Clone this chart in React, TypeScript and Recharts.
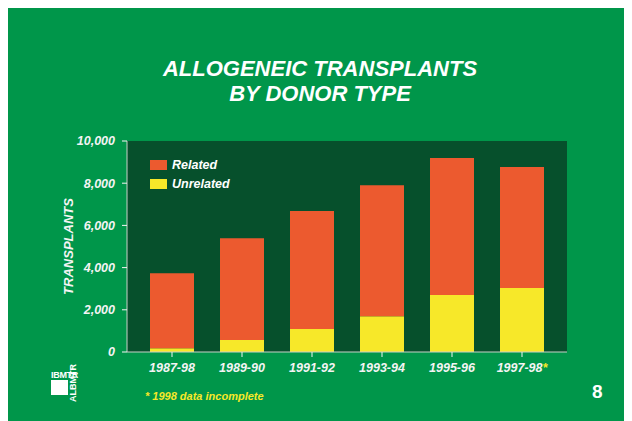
import React from "react";
import { BarChart, Bar, XAxis, YAxis, CartesianGrid, Legend } from "recharts";

const categories = ["1987-98", "1989-90", "1991-92", "1993-94", "1995-96", "1997-98*"];
const unrelated = [180, 570, 1090, 1700, 2700, 3030];
const related = [3550, 4820, 5590, 6200, 6490, 5740];
const yTicks = [0, 2000, 4000, 6000, 8000, 10000];

const data = categories.map((c, i) => ({
  period: c,
  Unrelated: unrelated[i],
  Related: related[i],
}));

const FONT = '"Liberation Sans", Arial, Helvetica, sans-serif';
const BG = "#00964A";
const PLOT = "#06502C";
const RED = "#EC5A2F";
const YEL = "#F7E829";
const BORDER = "#C8D0C8";

const legendOrder = ["Related", "Unrelated"];

const LegendContent = (props: any) => {
  const items = [...(props.payload || [])].sort(
    (a: any, b: any) => legendOrder.indexOf(a.value) - legendOrder.indexOf(b.value)
  );
  return (
    <div style={{ fontFamily: FONT }}>
      {items.map((it: any) => (
        <div key={it.value} style={{ display: "flex", alignItems: "center", height: 19.5 }}>
          <span style={{ display: "inline-block", width: 17, height: 10, background: it.color, marginRight: 5 }} />
          <span style={{ color: "#fff", fontSize: 12.5, fontWeight: "bold", fontStyle: "italic" }}>{it.value}</span>
        </div>
      ))}
    </div>
  );
};

const XTick = (props: any) => {
  const { x, y, payload } = props;
  const v: string = String(payload.value);
  const star = v.endsWith("*");
  const base = star ? v.slice(0, -1) : v;
  return (
    <text x={x} y={y} dy="0.71em" textAnchor="middle" fill="#F4F4F4" fontSize={12.5} fontWeight="bold" fontStyle="italic" fontFamily={FONT}>
      {base}
      {star && <tspan fill={YEL}>*</tspan>}
    </text>
  );
};

const YLabel = (props: any) => {
  const vb = props.viewBox || {};
  const cx = vb.x + 1;
  const cy = vb.y + vb.height / 2;
  return (
    <text x={cx} y={cy} transform={`rotate(-90 ${cx} ${cy})`} textAnchor="middle" dominantBaseline="central" fill="#F4F4F4" fontSize={13} fontWeight="bold" fontStyle="italic" fontFamily={FONT}>
      TRANSPLANTS
    </text>
  );
};

export default function App() {
  return (
    <div style={{ position: "relative", width: 624, height: 413, background: BG, fontFamily: FONT, overflow: "hidden" }}>
      <div style={{ position: "absolute", left: 0, top: 48, width: 624, textAlign: "center", color: "#fff", fontSize: 22, lineHeight: "25px", fontWeight: "bold", fontStyle: "italic" }}>
        <div>ALLOGENEIC TRANSPLANTS</div>
        <div>BY DONOR TYPE</div>
      </div>
      <BarChart width={624} height={413} data={data} margin={{ top: 133, right: 65, bottom: 39, left: 59 }}>
        <CartesianGrid horizontal={false} vertical={false} fill={PLOT} stroke="none" />
        <XAxis
          dataKey="period"
          padding={{ left: 10, right: 10 }}
          height={30}
          tick={<XTick />}
          tickSize={5}
          tickMargin={6}
          tickLine={{ stroke: "#F4F4F4" }}
          axisLine={{ stroke: BORDER }}
          interval={0}
        />
        <XAxis xAxisId="top" orientation="top" height={0} tick={false} tickLine={false} axisLine={{ stroke: BORDER }} />
        <YAxis
          width={60}
          domain={[0, 10000]}
          ticks={yTicks}
          tickFormatter={(v: number) => v.toLocaleString("en-US")}
          tick={{ fill: "#F4F4F4", fontSize: 12.5, fontWeight: "bold", fontStyle: "italic", fontFamily: FONT }}
          tickSize={5}
          tickMargin={7}
          tickLine={{ stroke: "#F4F4F4" }}
          axisLine={{ stroke: BORDER }}
          label={<YLabel />}
        />
        <YAxis yAxisId="right" orientation="right" width={0} tick={false} tickLine={false} axisLine={{ stroke: BORDER }} />
        <Legend
          layout="horizontal"
          verticalAlign="middle"
          align="center"
          content={<LegendContent />}
          wrapperStyle={{ left: 142, top: 147, width: 120 }}
        />
        <Bar dataKey="Unrelated" stackId="a" fill={YEL} barSize={44} isAnimationActive={false} />
        <Bar dataKey="Related" stackId="a" fill={RED} barSize={44} isAnimationActive={false} />
      </BarChart>
      <div style={{ position: "absolute", left: 137, top: 383, color: YEL, fontSize: 11, lineHeight: "11px", fontWeight: "bold", fontStyle: "italic", whiteSpace: "nowrap" }}>
        * 1998 data incomplete
      </div>
      <div style={{ position: "absolute", left: 584, top: 374, color: "#fff", fontSize: 19, lineHeight: "19px", fontWeight: "bold" }}>8</div>
      <div style={{ position: "absolute", left: 43, top: 363, color: "#fff", fontSize: 9, lineHeight: "9px", fontWeight: "bold", letterSpacing: -0.3 }}>IBMTR</div>
      <div style={{ position: "absolute", left: 43, top: 372, width: 17, height: 15, background: "#fff" }} />
      <div style={{ position: "absolute", left: 61, top: 394, transform: "rotate(-90deg)", transformOrigin: "0 0", color: "#fff", fontSize: 9, lineHeight: "9px", fontWeight: "bold", whiteSpace: "nowrap" }}>
        ALBMTR
      </div>
    </div>
  );
}
